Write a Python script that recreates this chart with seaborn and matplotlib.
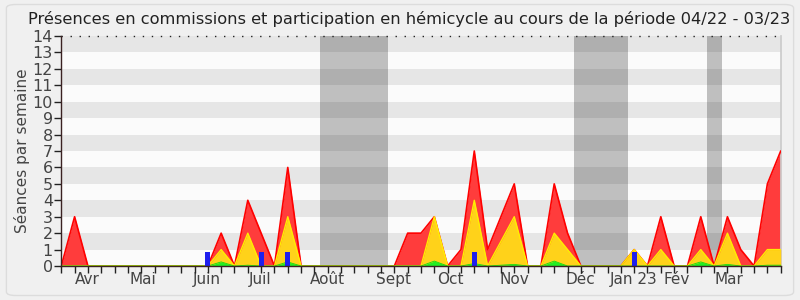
import numpy as np
import pandas as pd
import matplotlib
matplotlib.use("Agg")
import matplotlib.pyplot as plt
from matplotlib.patches import FancyBboxPatch
import seaborn as sns

# ---- data (weekly values, week index 0..54) ----
semaines = list(range(55))
presences = [0, 3, 0, 0, 0, 0, 0, 0, 0, 0, 0, 0, 2, 0, 4, 2, 0, 6, 0, 0,
             0, 0, 0, 0, 0, 0, 2, 2, 3, 0, 1, 7, 1, 3, 5, 0, 0, 5, 2, 0,
             0, 0, 0, 1, 0, 3, 0, 0, 3, 0, 3, 1, 0, 5, 7]
commissions = [0, 0, 0, 0, 0, 0, 0, 0, 0, 0, 0, 0, 1, 0, 2, 0, 0, 3, 0, 0,
               0, 0, 0, 0, 0, 0, 0, 0, 3, 0, 0, 4, 0, 1.5, 3, 0, 0, 2, 1, 0,
               0, 0, 0, 1, 0, 1, 0, 0, 1, 0, 2, 0, 0, 1, 1]
interventions = [0, 0, 0, 0, 0, 0, 0, 0, 0, 0, 0, 0, 0.25, 0, 0.05, 0, 0, 0.25, 0, 0,
                 0, 0, 0, 0, 0, 0, 0, 0, 0.3, 0, 0, 0.15, 0, 0.05, 0.1, 0, 0, 0.3, 0, 0,
                 0, 0, 0, 0, 0, 0, 0, 0, 0.25, 0, 0.1, 0, 0, 0.05, 0.05]
questions_semaines = [11, 15, 17, 31, 43]
questions_valeurs = [0.85, 0.85, 0.85, 0.85, 0.85]
vacances_debut = [19.45, 38.45, 48.47]
vacances_fin = [24.55, 42.55, 49.6]
mois_labels = ["Avr", "Mai", "Juin", "Juil", "Août", "Sept", "Oct", "Nov",
               "Déc", "Jan 23", "Fév", "Mar"]
mois_positions = [1.96, 6.12, 10.93, 14.94, 19.95, 24.96, 29.17, 33.98,
                  38.99, 42.93, 46.19, 50.15]
titre = "Présences en commissions et participation en hémicycle au cours de la période 04/22 - 03/23"

df = pd.DataFrame({"semaine": semaines, "presences": presences,
                   "commissions": commissions, "interventions": interventions})

sns.set_theme(style="white")
plt.rcParams["font.family"] = ["DejaVu Sans"]

fig = plt.figure(figsize=(8, 3), dpi=100)
fig.patch.set_facecolor("#f0f0f0")
fig.patches.append(FancyBboxPatch((0.008, 0.015), 0.984, 0.97, boxstyle="round,pad=0,rounding_size=0.012",
                                  transform=fig.transFigure, facecolor="#f0f0f0",
                                  edgecolor="#dcdcdc", linewidth=1.0, zorder=-10))
ax = fig.add_axes([0.0766, 0.1133, 0.8993, 0.7667])
ax.set_facecolor("#fbfbfb")

# stripes
for k in range(1, 14, 2):
    ax.axhspan(k, k + 1, color="#e6e6e6", lw=0, zorder=0)
# holiday bands
for a, b in zip(vacances_debut, vacances_fin):
    ax.axvspan(a, b, color="black", alpha=0.24, lw=0, zorder=1)

ax.fill_between(df["semaine"], df["presences"], color="#ff3c3c", lw=0, zorder=2)
sns.lineplot(data=df, x="semaine", y="presences", color="#ff0000", lw=1.2, ax=ax, zorder=3)
ax.fill_between(df["semaine"], df["commissions"], color="#ffd21a", lw=0, zorder=4)
sns.lineplot(data=df, x="semaine", y="commissions", color="#ffee00", lw=1.0, ax=ax, zorder=5)
ax.fill_between(df["semaine"], df["interventions"], color="#22ee22", lw=0, zorder=6)
sns.lineplot(data=df, x="semaine", y="interventions", color="#11dd11", lw=0.6, ax=ax, zorder=7)
ax.bar(questions_semaines, questions_valeurs, width=0.36, color="#1f1fee", zorder=8, lw=0)

ax.set_xlim(0, 54)
ax.set_ylim(0, 14)
ax.set_yticks(range(0, 15))
ax.set_xticks(mois_positions)
ax.set_xticklabels(mois_labels)
ax.set_xticks(range(0, 55), minor=True)
ax.tick_params(axis="x", which="major", length=0, labelsize=11, labelcolor="#444444", pad=4)
ax.tick_params(axis="x", which="minor", length=5, width=1, color="#222222", bottom=True, direction="out")
ax.tick_params(axis="y", which="major", length=5, width=1, color="#222222", left=True,
               labelsize=11.5, labelcolor="#444444", pad=1)
ax.set_xlabel("")
ax.set_ylabel("Séances par semaine", fontsize=11, color="#444444", labelpad=2)

for s in ["left", "bottom"]:
    ax.spines[s].set_visible(True)
    ax.spines[s].set_color("#3a2222")
    ax.spines[s].set_linewidth(1)
    ax.spines[s].set_zorder(10)
ax.spines["right"].set_color("#cccccc")
ax.spines["top"].set_visible(False)
ax.axhline(14, color="#222222", lw=1, ls=(0, (1, 5.5)), zorder=9, clip_on=False)
ax.grid(False)

fig.text(0.512, 0.938, titre, ha="center", va="center", fontsize=11.7, color="#222222")

fig.savefig("out.png", dpi=100, facecolor=fig.get_facecolor())
